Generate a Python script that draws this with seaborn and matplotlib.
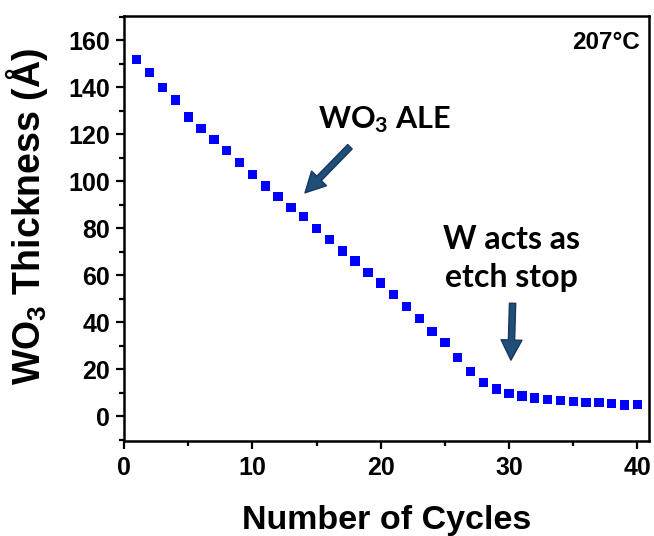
import matplotlib
matplotlib.use('Agg')
import matplotlib.pyplot as plt
import seaborn as sns
import pandas as pd
from matplotlib.ticker import MultipleLocator

# WO3 thickness vs. ALE cycle number at 207 C
cycles = list(range(1, 41))
thickness = [151.8, 146.1, 139.9, 134.5, 127.2, 122.4, 117.7, 112.9, 108.0, 102.8,
             97.9, 93.3, 88.9, 84.8, 79.9, 75.2, 70.2, 66.0, 61.1, 56.6,
             51.8, 46.5, 41.4, 35.9, 31.2, 25.0, 18.9, 14.2, 11.5, 9.7,
             8.5, 7.7, 7.1, 6.7, 6.1, 5.8, 5.7, 5.4, 4.7, 5.0]
x_ticks = [0, 10, 20, 30, 40]
y_ticks = [0, 20, 40, 60, 80, 100, 120, 140, 160]

df = pd.DataFrame({'cycle': cycles, 'thickness': thickness})

sns.set_style('ticks', {'text.color': 'black', 'xtick.color': 'black',
                        'ytick.color': 'black', 'axes.labelcolor': 'black',
                        'axes.edgecolor': 'black'})
plt.rcParams['font.family'] = ['Liberation Sans', 'DejaVu Sans']
plt.rcParams['mathtext.default'] = 'regular'

fig = plt.figure(figsize=(6.54, 5.36), dpi=100)
ax = fig.add_axes([0.1896, 0.1772, 0.8028, 0.7928])

sns.scatterplot(data=df, x='cycle', y='thickness', marker='s', s=45,
                color='#0000FF', edgecolor='none', ax=ax)

ax.set_xlim(0, 40.9)
ax.set_ylim(-10.6, 170.2)
ax.set_xticks(x_ticks)
ax.set_yticks(y_ticks)
ax.xaxis.set_minor_locator(MultipleLocator(5))
ax.yaxis.set_minor_locator(MultipleLocator(10))

for sp in ax.spines.values():
    sp.set_linewidth(1.8)
ax.tick_params(which='major', length=6, width=1.6, labelsize=18, pad=4)
ax.tick_params(which='minor', length=3.5, width=1.6)
ax.tick_params(axis='x', which='major', pad=5)
for lab in ax.get_xticklabels() + ax.get_yticklabels():
    lab.set_fontweight('bold')

ax.set_xlabel('Number of Cycles', fontsize=24.5, fontweight='bold', labelpad=18)
ax.set_ylabel('WO$_3$ Thickness (Å)', fontsize=27, fontweight='bold')
ax.yaxis.set_label_coords(-0.141, 0.528)

ax.text(40.2, 159, '207°C', fontsize=17.5, fontweight='bold', ha='right', va='center')

ax.text(20.3, 126, 'WO$_3$ ALE', fontsize=22, fontweight='bold', family=['Lato', 'DejaVu Sans'],
        ha='center', va='center')
ax.text(30.2, 67.0, 'W acts as\netch stop', fontsize=23, fontweight='bold',
        family=['Lato', 'DejaVu Sans'], ha='center', va='center', linespacing=1.35)

arrow = dict(arrowstyle='simple,tail_width=0.45,head_width=1.5,head_length=1.45',
             fc='#1F4E79', ec='#17375E', lw=1, shrinkA=0, shrinkB=0, mutation_scale=10)
ax.annotate('', xy=(14.1, 95.0), xytext=(17.6, 114.6), arrowprops=arrow)
ax.annotate('', xy=(30.14, 23.8), xytext=(30.27, 48.0), arrowprops=arrow)

fig.savefig('out.png', dpi=100)
